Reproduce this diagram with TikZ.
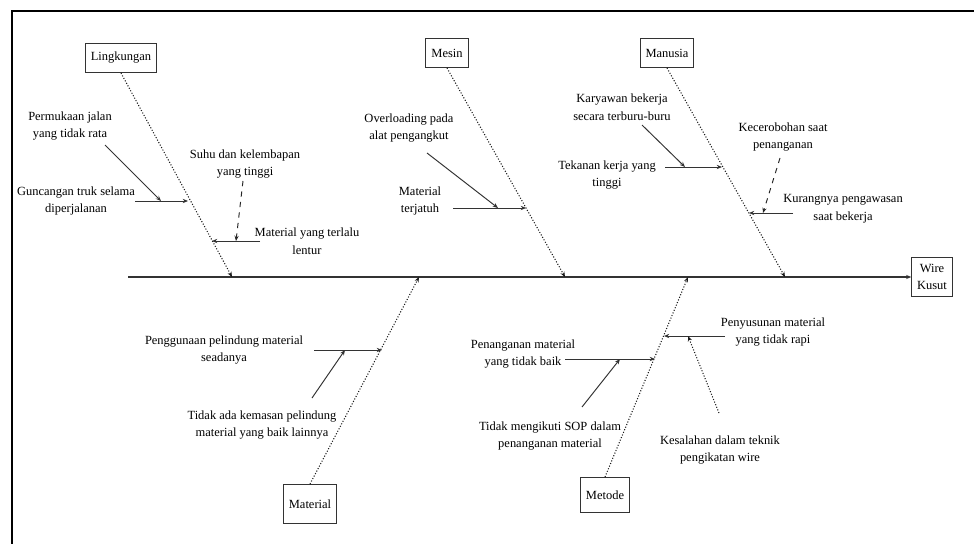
\documentclass[tikz,border=0pt]{standalone}
\usepackage{fontspec}
\setmainfont{Liberation Serif}
\usetikzlibrary{arrows.meta,positioning}

\begin{document}
\begin{tikzpicture}[x=0.02cm, y=-0.02cm, >={Stealth[length=3pt,width=2.4pt]},
  font=\fontsize{7.1}{10}\selectfont,
  cat/.style={rectangle, draw=black!80, line width=0.6pt, minimum height=0.58cm, inner xsep=3pt},
  cause/.style={align=center, inner sep=1pt},
  bone/.style={->, black!90, line width=0.6pt, densely dotted},
  sub/.style={->, black!80, line width=0.55pt},
  subd/.style={->, black!85, line width=0.55pt, dashed}]
  \useasboundingbox (0,0) rectangle (974,544);
  \draw[line width=1.2pt] (12,560) -- (12,11) -- (990,11);

  \node[cat, minimum width=1.34cm] (lingk) at (121,58) {Lingkungan};
  \node[cat, minimum width=0.86cm] (mesin) at (447,53) {Mesin};
  \node[cat, minimum width=1.0cm] (manus) at (667,53) {Manusia};
  \node[cat, minimum width=0.88cm, minimum height=0.78cm] (matr) at (310,504) {Material};
  \node[cat, minimum width=0.86cm, minimum height=0.7cm] (metod) at (605,495) {Metode};
  \node[cat, minimum width=0.8cm, minimum height=0.78cm, align=center] (wire) at (932,277) {Wire\\Kusut};

  \coordinate (tail) at (128,277);
  \coordinate (l0) at (232,277);
  \coordinate (s0) at (565,277);
  \coordinate (m0) at (785,277);
  \coordinate (t0) at (419,277);
  \coordinate (d0) at (688,277);
  \draw[->, black!80, line width=0.6pt] (tail) -- (wire);
  \draw[bone] (lingk.south) -- (l0);
  \draw[bone] (mesin.south) -- (s0);
  \draw[bone] (manus.south) -- (m0);
  \draw[bone] (matr.north) -- (t0);
  \draw[bone] (metod.north) -- (d0);

  \node[cause] (perm) at (70,126) {Permukaan jalan\\yang tidak rata};
  \node[cause] (gunc) at (76,201) {Guncangan truk selama\\diperjalanan};
  \node[cause] (suhu) at (245,164) {Suhu dan kelembapan\\yang tinggi};
  \node[cause] (lent) at (307,241) {Material yang terlalu\\lentur};
  \coordinate (l1) at (188,201);
  \coordinate (l1a) at (135,201);
  \coordinate (l1b) at (161,201);
  \coordinate (l1c) at (105,145);
  \coordinate (l2) at (212,241);
  \coordinate (l2a) at (260,241);
  \coordinate (l2b) at (236,241);
  \coordinate (l2c) at (243,181);
  \draw[sub] (l1a) -- (l1);
  \draw[sub] (l1c) -- (l1b);
  \draw[sub] (l2a) -- (l2);
  \draw[subd] (l2c) -- (l2b);

  \node[cause] (over) at (409,128) {Overloading pada\\alat pengangkut};
  \node[cause] (terj) at (420,201) {Material\\terjatuh};
  \coordinate (s1) at (526,208);
  \coordinate (s1a) at (453,208);
  \coordinate (s1b) at (498,208);
  \coordinate (s1c) at (427,153);
  \draw[sub] (s1a) -- (s1);
  \draw[sub] (s1c) -- (s1b);

  \node[cause] (kary) at (622,107) {Karyawan bekerja\\secara terburu-buru};
  \node[cause] (tekan) at (607,175) {Tekanan kerja yang\\tinggi};
  \node[cause] (cerob) at (783,137) {Kecerobohan saat\\penanganan};
  \node[cause] (awas) at (843,209) {Kurangnya pengawasan\\saat bekerja};
  \coordinate (m1) at (722,167);
  \coordinate (m1a) at (665,167);
  \coordinate (m1b) at (685,167);
  \coordinate (m1c) at (642,125);
  \coordinate (m2) at (749,213);
  \coordinate (m2a) at (793,213);
  \coordinate (m2b) at (763,213);
  \coordinate (m2c) at (780,158);
  \draw[sub] (m1a) -- (m1);
  \draw[sub] (m1c) -- (m1b);
  \draw[sub] (m2a) -- (m2);
  \draw[subd] (m2c) -- (m2b);

  \node[cause] (pelin) at (224,350) {Penggunaan pelindung material\\seadanya};
  \node[cause] (kemas) at (262,425) {Tidak ada kemasan pelindung\\material yang baik lainnya};
  \coordinate (t1) at (382,350);
  \coordinate (t1a) at (314,350);
  \coordinate (t1b) at (345,350);
  \coordinate (t1c) at (312,398);
  \draw[sub] (t1a) -- (t1);
  \draw[sub] (t1c) -- (t1b);

  \node[cause] (penan) at (523,354) {Penanganan material\\yang tidak baik};
  \node[cause] (sop) at (550,436) {Tidak mengikuti SOP dalam\\penanganan material};
  \node[cause] (susun) at (773,332) {Penyusunan material\\yang tidak rapi};
  \node[cause] (ikat) at (720,450) {Kesalahan dalam teknik\\pengikatan wire};
  \coordinate (d1) at (655,359);
  \coordinate (d1a) at (565,359);
  \coordinate (d1b) at (620,359);
  \coordinate (d1c) at (582,407);
  \coordinate (d2) at (664,336);
  \coordinate (d2a) at (725,336);
  \coordinate (d2b) at (688,336);
  \coordinate (d2c) at (719,413);
  \draw[sub] (d1a) -- (d1);
  \draw[sub] (d1c) -- (d1b);
  \draw[sub] (d2a) -- (d2);
  \draw[bone] (d2c) -- (d2b);
\end{tikzpicture}
\end{document}
